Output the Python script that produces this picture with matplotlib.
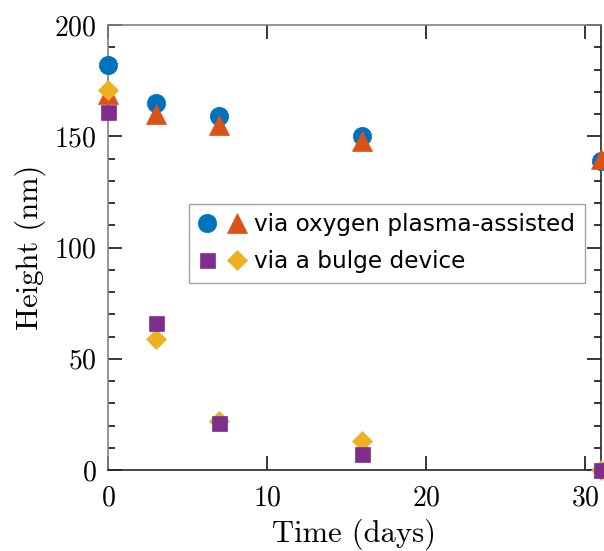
import matplotlib
matplotlib.use("Agg")
import matplotlib.pyplot as plt
from matplotlib.legend_handler import HandlerTuple
import numpy as np

# data
days = [0, 3, 7, 16, 31]
plasma_a = [182, 165, 159, 150, 139]   # circles
plasma_b = [169, 160, 155, 148, 140]   # triangles
bulge_a = [161, 66, 21, 7, 0]          # squares
bulge_b = [171, 59, 22, 13, 0]         # diamonds

xticks = [0, 10, 20, 30]
yticks = [0, 50, 100, 150, 200]

blue = "#0072BD"
orange = "#D95319"
yellow = "#EDB120"
purple = "#7E2F8E"

plt.rcParams["font.family"] = "serif"
plt.rcParams["font.serif"] = ["cmr10"]
plt.rcParams["axes.formatter.use_mathtext"] = True

fig = plt.figure(figsize=(6.04, 5.51), dpi=100)
ax = fig.add_axes([108 / 604, 81 / 551, 493 / 604, 445 / 551])

c, = ax.plot(days, plasma_a, "o", ms=13.2, color=blue, mec=blue, mew=0.5, ls="none", clip_on=False, zorder=3)
t, = ax.plot(days, plasma_b, "^", ms=14, color=orange, mec=orange, mew=0.5, ls="none", clip_on=False, zorder=4)
d, = ax.plot(days, bulge_b, "D", ms=10, color=yellow, mec=yellow, mew=0.5, ls="none", clip_on=False, zorder=5)
s, = ax.plot(days, bulge_a, "s", ms=10.8, color=purple, mec=purple, mew=0.5, ls="none", clip_on=False, zorder=6)

ax.set_xlim(0, 31)
ax.set_ylim(0, 200)
ax.set_xticks(xticks)
ax.set_yticks(yticks)
ax.set_yticks(np.arange(0, 201, 10), minor=True)
ax.tick_params(which="both", direction="in", top=True, right=True, labelsize=20, color="#262626", width=1.3)
ax.tick_params(which="major", length=10, pad=8)
ax.tick_params(which="minor", length=5)
ax.tick_params(axis="x", which="major", pad=11)
ax.tick_params(axis="x", which="minor", bottom=False, top=False)

ax.spines["left"].set_color("#808080")
ax.spines["top"].set_color("#808080")
ax.spines["right"].set_color("#262626")
ax.spines["bottom"].set_color("#262626")
for sp in ax.spines.values():
    sp.set_linewidth(1.2)

ax.set_xlabel("Time (days)", fontsize=22, labelpad=5)
ax.set_ylabel("Height (nm)", fontsize=22, labelpad=6)

leg = ax.legend([(c, t), (s, d)], ["via oxygen plasma-assisted", "via a bulge device"],
                handler_map={tuple: HandlerTuple(ndivide=None, pad=0.6)},
                loc="lower left", bbox_to_anchor=(0.164, 0.42),
                prop={"family": "DejaVu Sans", "size": 16.7}, handlelength=2.0,
                handletextpad=0.4, labelspacing=0.6, borderpad=0.42,
                fancybox=False, framealpha=1, edgecolor="#a0a0a0", borderaxespad=0)
leg.get_frame().set_linewidth(1.0)

fig.savefig("out.png", dpi=100)
